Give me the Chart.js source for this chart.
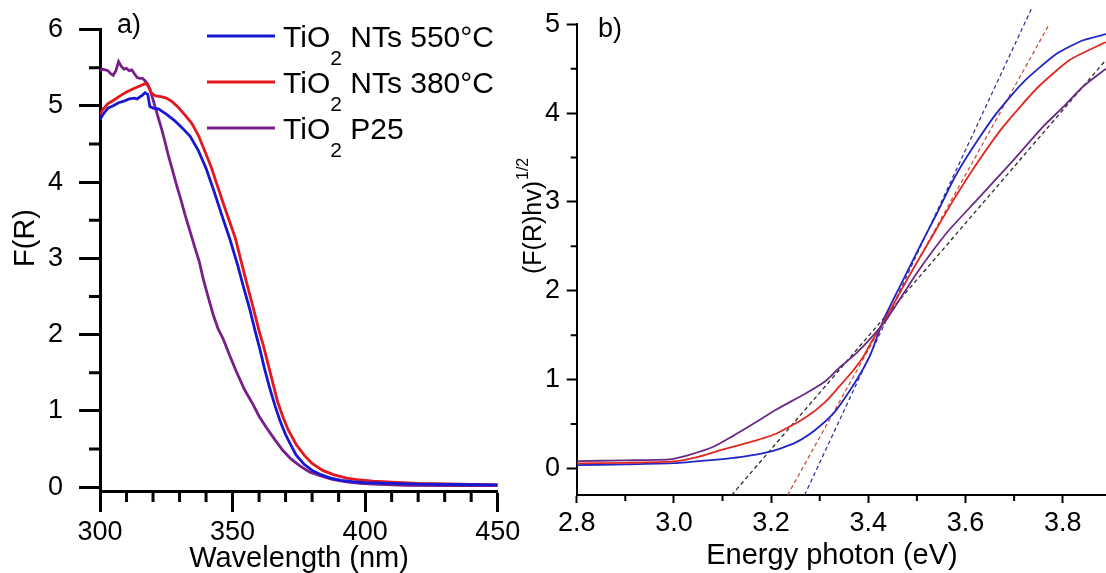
<!DOCTYPE html>
<html>
<head>
<meta charset="utf-8">
<script src="https://cdn.jsdelivr.net/npm/chart.js@4.4.1/dist/chart.umd.min.js"></script>
<style>
  html, body { margin: 0; padding: 0; background: #fff; }
  #wrap { position: relative; width: 1106px; height: 573px; overflow: hidden; }
  .panel { position: absolute; top: 0; height: 573px; }
</style>
</head>
<body>
<div id="wrap">
  <div class="panel" style="left:0;width:530px"><canvas id="chartA"></canvas></div>
  <div class="panel" style="left:500px;width:606px"><canvas id="chartB"></canvas></div>
</div>
<script>
// ---- panel a: F(R) vs wavelength ----
const wlBlue = [300,301,303,305,307,309,311,313,314,316,317,318,318.8,320,322,325,328,331,334,337,340,343,346,349,352,354,356.5,358.5,360.3,362,364,366,368,370,372,374,377,380,383,387,391,396,400,410,420,435,450];
const frBlue = [4.82,4.88,4.97,5.00,5.04,5.06,5.09,5.10,5.09,5.14,5.17,5.15,4.99,4.97,4.96,4.89,4.81,4.71,4.60,4.42,4.18,3.88,3.56,3.25,2.90,2.64,2.33,2.05,1.81,1.56,1.30,1.07,0.86,0.69,0.55,0.42,0.30,0.22,0.17,0.12,0.09,0.07,0.06,0.05,0.04,0.035,0.03];

const wlRed = [300,301,303,305,308,310,313,315,317,318,319.5,321,323,325,327,329.5,332,334.6,337,339.6,342,344,347,351,354.7,357.8,360,361.6,363.5,365.3,367,369,371,374,377,380,384,388,393,397,403,410,420,435,450];
const frRed = [4.88,4.95,5.03,5.07,5.14,5.18,5.23,5.26,5.29,5.27,5.16,5.13,5.12,5.10,5.06,4.98,4.88,4.77,4.62,4.40,4.19,3.98,3.67,3.27,2.76,2.35,2.05,1.86,1.60,1.35,1.12,0.92,0.75,0.56,0.42,0.31,0.22,0.165,0.12,0.10,0.08,0.065,0.05,0.04,0.03];

const wlP25 = [300,301,302,303,304,305,306,307,308,309,310,311,312,313,314,315,316,317,318,319,320,321,322,323.2,324.5,325.7,327,328.8,330.5,332,334,335.7,337.5,339,340.5,342.7,344.5,346.5,349,351.5,354.5,357.8,360,362.8,366,369,372,375.4,379,383,388,393,398,403,415,430,450];
const frP25 = [5.46,5.48,5.47,5.46,5.42,5.40,5.46,5.58,5.52,5.48,5.49,5.46,5.47,5.42,5.37,5.36,5.36,5.33,5.28,5.20,5.08,4.96,4.84,4.70,4.53,4.36,4.20,3.97,3.77,3.58,3.35,3.15,2.95,2.72,2.53,2.26,2.08,1.94,1.72,1.51,1.28,1.08,0.93,0.78,0.62,0.48,0.37,0.28,0.20,0.15,0.10,0.07,0.05,0.04,0.025,0.02,0.02];

// ---- panel b: Tauc plot ----
const eBlue = [2.80,2.90,3.00,3.07,3.14,3.20,3.25,3.29,3.33,3.36,3.385,3.405,3.431,3.465,3.506,3.541,3.575,3.616,3.664,3.719,3.788,3.842,3.889];
const tBlue = [0.037,0.045,0.058,0.09,0.13,0.19,0.29,0.43,0.63,0.86,1.08,1.29,1.67,2.05,2.50,2.87,3.25,3.62,4.00,4.35,4.67,4.82,4.89];

const eRed = [2.80,2.90,3.00,3.05,3.10,3.16,3.21,3.27,3.31,3.34,3.37,3.39,3.405,3.438,3.479,3.527,3.575,3.623,3.678,3.747,3.815,3.889];
const tRed = [0.056,0.062,0.078,0.13,0.21,0.30,0.39,0.57,0.74,0.92,1.11,1.26,1.41,1.71,2.12,2.57,3.02,3.43,3.85,4.28,4.60,4.80];

const eP25 = [2.80,2.90,2.99,3.03,3.08,3.12,3.16,3.21,3.27,3.31,3.34,3.376,3.404,3.438,3.50,3.561,3.623,3.692,3.76,3.801,3.842,3.889];
const tP25 = [0.082,0.09,0.10,0.15,0.24,0.36,0.49,0.66,0.84,0.975,1.13,1.30,1.46,1.68,2.20,2.65,3.02,3.43,3.85,4.07,4.30,4.50];

// linear fits (band gap extrapolation), two end points each
const fitBlueE = [3.269, 3.736], fitBlueT = [-0.3, 5.18];
const fitRedE = [3.234, 3.770], fitRedT = [-0.3, 4.98];
const fitP25E = [3.119, 3.889], fitP25T = [-0.3, 4.60];

// minor tick positions
const minorXA = [310,320,330,340,360,370,380,390,410,420,430,440];
const minorYA = [0.5,1.5,2.5,3.5,4.5,5.5];
const minorXB = [2.9,3.1,3.3,3.5,3.7];
const minorYB = [0.5,1.5,2.5,3.5,4.5];

const FONT = '"Liberation Sans", Arial, sans-serif';

function pairs(xs, ys) {
  return xs.map((x, i) => ({ x: x, y: ys[i] }));
}

const minorTicks = {
  id: 'minorTicks',
  afterDraw(chart, args, opts) {
    const ctx = chart.ctx;
    ctx.save();
    ctx.strokeStyle = '#000';
    ['x', 'y'].forEach(id => {
      const o = opts[id];
      if (!o) return;
      const s = chart.scales[id];
      ctx.lineWidth = o.width;
      ctx.beginPath();
      o.values.forEach(v => {
        const p = s.getPixelForValue(v);
        if (id === 'x') { ctx.moveTo(p, s.top); ctx.lineTo(p, s.top + o.length); }
        else { ctx.moveTo(s.right, p); ctx.lineTo(s.right - o.length, p); }
      });
      ctx.stroke();
    });
    ctx.restore();
  }
};

const texts = {
  id: 'texts',
  afterDraw(chart, args, opts) {
    const ctx = chart.ctx;
    (opts.items || []).forEach(it => {
      ctx.save();
      ctx.fillStyle = '#000';
      ctx.textBaseline = 'alphabetic';
      ctx.textAlign = 'left';
      ctx.translate(it.x, it.y);
      if (it.rot) ctx.rotate(it.rot);
      ctx.font = it.size + 'px ' + FONT;
      const w = ctx.measureText(it.text).width;
      let sw = 0;
      if (it.sup) {
        ctx.font = it.supSize + 'px ' + FONT;
        sw = ctx.measureText(it.sup).width + 1;
      }
      const x0 = it.align === 'center' ? -(w + sw) / 2 : 0;
      ctx.font = it.size + 'px ' + FONT;
      ctx.fillText(it.text, x0, 0);
      if (it.sup) {
        ctx.font = it.supSize + 'px ' + FONT;
        ctx.fillText(it.sup, x0 + w + 1, -it.supRise);
      }
      ctx.restore();
    });
  }
};

// legend with subscript 2 in TiO2
const subLegend = {
  id: 'subLegend',
  afterDraw(chart, args, o) {
    const ctx = chart.ctx;
    ctx.save();
    chart.data.datasets.forEach((ds, i) => {
      const y = o.top + i * o.gap;
      ctx.strokeStyle = ds.borderColor;
      ctx.lineWidth = ds.borderWidth;
      ctx.beginPath();
      ctx.moveTo(o.x, y);
      ctx.lineTo(o.x + o.lineLen, y);
      ctx.stroke();

      let x = o.x + o.lineLen + o.gapText;
      const by = y + o.baseShift;
      const parts = ds.label.split('₂');
      ctx.fillStyle = '#000';
      ctx.textBaseline = 'alphabetic';
      ctx.textAlign = 'left';
      ctx.font = o.size + 'px ' + FONT;
      ctx.fillText(parts[0], x, by);
      x += ctx.measureText(parts[0]).width;
      if (parts.length > 1) {
        ctx.font = o.subSize + 'px ' + FONT;
        ctx.fillText('2', x, by + o.subDrop);
        x += ctx.measureText('2').width;
        ctx.font = o.size + 'px ' + FONT;
        ctx.fillText(parts[1], x, by);
      }
    });
    ctx.restore();
  }
};

const tickFont = { family: FONT, size: 27, lineHeight: 1 };

new Chart(document.getElementById('chartA'), {
  type: 'line',
  data: {
    datasets: [
      { label: 'TiO₂ NTs 550°C', data: pairs(wlBlue, frBlue), borderColor: '#1717d4', borderWidth: 2.8 },
      { label: 'TiO₂ NTs 380°C', data: pairs(wlRed, frRed), borderColor: '#e3171d', borderWidth: 2.8 },
      { label: 'TiO₂ P25', data: pairs(wlP25, frP25), borderColor: '#781f8a', borderWidth: 2.8 }
    ]
  },
  options: {
    responsive: true,
    maintainAspectRatio: false,
    animation: false,
    layout: { padding: { top: 23.3, right: 32.3, bottom: 0, left: 0 } },
    elements: { point: { radius: 0 }, line: { tension: 0 } },
    plugins: {
      legend: { display: false },
      tooltip: { enabled: false },
      minorTicks: {
        x: { values: minorXA, length: 11, width: 3 },
        y: { values: minorYA, length: 11, width: 3 }
      },
      subLegend: { x: 207, lineLen: 68, gapText: 8, top: 36, gap: 46, baseShift: 10.7, size: 30, subSize: 21, subDrop: 18 },
      texts: {
        items: [
          { text: 'a)', x: 117, y: 33, size: 27 },
          { text: 'F(R)', x: 34, y: 238, size: 29, rot: -Math.PI / 2, align: 'center' },
          { text: 'Wavelength (nm)', x: 299, y: 567, size: 29, align: 'center' }
        ]
      }
    },
    scales: {
      x: {
        type: 'linear', min: 300, max: 450,
        ticks: { stepSize: 50, font: tickFont, color: '#000', padding: 7, maxRotation: 0, includeBounds: false },
        grid: { drawOnChartArea: false, tickLength: 21, tickWidth: 3, tickColor: '#000' },
        border: { color: '#000', width: 3 },
        afterFit: s => { s.height = 82; }
      },
      y: {
        type: 'linear', min: -0.05, max: 6,
        ticks: { stepSize: 1, font: tickFont, color: '#000', padding: 16, includeBounds: false },
        grid: { drawOnChartArea: false, tickLength: 21, tickWidth: 3, tickColor: '#000' },
        border: { color: '#000', width: 3 },
        afterFit: s => { s.width = 100; }
      }
    }
  },
  plugins: [minorTicks, subLegend, texts]
});

new Chart(document.getElementById('chartB'), {
  type: 'line',
  data: {
    datasets: [
      { label: 'TiO₂ P25', data: pairs(eP25, tP25), borderColor: '#6a2b88', borderWidth: 1.8 },
      { label: 'TiO₂ NTs 380°C', data: pairs(eRed, tRed), borderColor: '#e0281f', borderWidth: 1.8 },
      { label: 'TiO₂ NTs 550°C', data: pairs(eBlue, tBlue), borderColor: '#1f26c4', borderWidth: 1.8 },
      { label: 'fit P25', data: pairs(fitP25E, fitP25T), borderColor: '#2a2a2a', borderWidth: 1.3, borderDash: [4, 3], clip: false },
      { label: 'fit 380°C', data: pairs(fitRedE, fitRedT), borderColor: '#c8503f', borderWidth: 1.3, borderDash: [4, 3], clip: false },
      { label: 'fit 550°C', data: pairs(fitBlueE, fitBlueT), borderColor: '#33369a', borderWidth: 1.3, borderDash: [4, 3], clip: false }
    ]
  },
  options: {
    responsive: true,
    maintainAspectRatio: false,
    animation: false,
    layout: { padding: { top: 24.3, right: 0, bottom: 0, left: 0 } },
    elements: { point: { radius: 0 }, line: { tension: 0.2 } },
    plugins: {
      legend: { display: false },
      tooltip: { enabled: false },
      minorTicks: {
        x: { values: minorXB, length: 6, width: 2 },
        y: { values: minorYB, length: 6, width: 2 }
      },
      texts: {
        items: [
          { text: 'b)', x: 98, y: 37, size: 27 },
          { text: '(F(R)hv)', x: 41, y: 274, size: 25, rot: -Math.PI / 2, sup: '1/2', supSize: 16, supRise: 13 },
          { text: 'Energy photon (eV)', x: 332, y: 564, size: 29, align: 'center' }
        ]
      }
    },
    scales: {
      x: {
        type: 'linear', min: 2.8, max: 3.889,
        ticks: { stepSize: 0.2, font: tickFont, color: '#000', padding: 7, maxRotation: 0, includeBounds: false,
                 callback: v => v.toFixed(1) },
        grid: { drawOnChartArea: false, tickLength: 8, tickWidth: 2, tickColor: '#000' },
        border: { color: '#000', width: 2 },
        afterFit: s => { s.height = 78; }
      },
      y: {
        type: 'linear', min: -0.3, max: 5,
        ticks: { stepSize: 1, font: tickFont, color: '#000', padding: 6.7, includeBounds: false },
        grid: { drawOnChartArea: false, tickLength: 10, tickWidth: 2, tickColor: '#000' },
        border: { color: '#000', width: 2 },
        afterFit: s => { s.width = 76.7; }
      }
    }
  },
  plugins: [minorTicks, texts]
});
</script>
</body>
</html>
